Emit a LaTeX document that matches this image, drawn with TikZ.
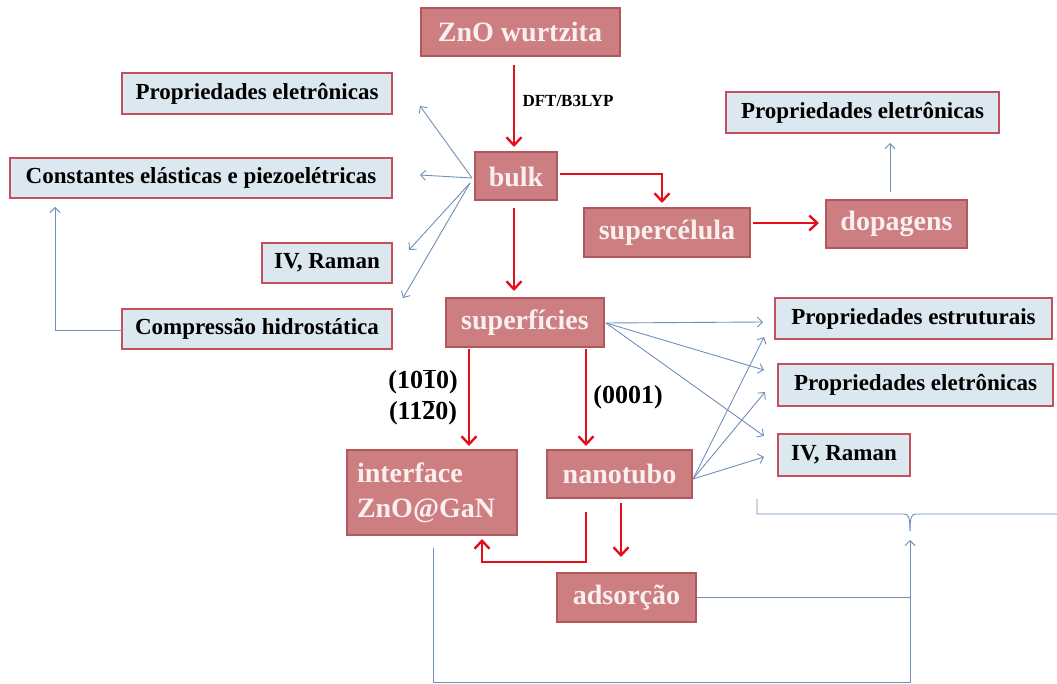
\documentclass[tikz,border=0pt]{standalone}
\usepackage{fontspec}
\setmainfont{Liberation Serif}
\usetikzlibrary{arrows.meta}
\definecolor{rosefill}{HTML}{CD7E80}
\definecolor{rosedraw}{HTML}{B0585B}
\definecolor{rosetext}{HTML}{FBF0F0}
\definecolor{bluefill}{HTML}{DCE8EF}
\definecolor{bluedraw}{HTML}{C4505C}
\definecolor{arrred}{HTML}{E3101A}
\definecolor{arrblue}{HTML}{7090B8}
\newcommand\ovl[1]{$\overline{\mbox{#1}}$}
\tikzset{
  rosebox/.style={draw=rosedraw, line width=2pt, fill=rosefill, text=rosetext,
    font=\bfseries\fontsize{28}{30}\selectfont, inner sep=0pt, align=center},
  bluebox/.style={draw=bluedraw, line width=2pt, fill=bluefill, text=black,
    font=\bfseries\fontsize{23}{25}\selectfont, inner sep=0pt},
  redarr/.style={draw=arrred, line width=2.4pt, -{Straight Barb[length=8pt,width=15pt,line width=2.4pt]}},
  redline/.style={draw=arrred, line width=2.4pt},
  bluearr/.style={draw=arrblue, line width=0.9pt, -{Straight Barb[length=5pt,width=10pt,line width=0.9pt]}},
  blueline/.style={draw=arrblue, line width=0.9pt},
  lbl/.style={font=\bfseries\fontsize{26}{30}\selectfont, inner sep=0pt, align=center},
}
\begin{document}
\begin{tikzpicture}[x=1pt,y=-1pt]
\useasboundingbox (0,0) rectangle (1057,684);
% rose boxes
\node[rosebox, minimum width=199pt, minimum height=48pt] (zno) at (520,32) {ZnO wurtzita};
\node[rosebox, minimum width=82pt, minimum height=48pt] (bulk) at (516,176.5) {bulk};
\node[rosebox, minimum width=166pt, minimum height=49pt] (superc) at (667,232.5) {supercélula};
\node[rosebox, minimum width=141pt, minimum height=48pt] (dop) at (896.5,224) {dopagens};
\node[rosebox, minimum width=158pt, minimum height=49pt] (sup) at (525,322.5) {superfícies};
\node[rosebox, minimum width=170pt, minimum height=85pt, align=left, text width=150pt] (inter) at (432,492.5) {interface\\[5pt]ZnO@GaN};
\node[rosebox, minimum width=145pt, minimum height=48pt] (nano) at (619.5,474) {nanotubo};
\node[rosebox, minimum width=139pt, minimum height=49pt] (ads) at (626.5,597.5) {adsorção};
% blue boxes
\node[bluebox, minimum width=270pt, minimum height=41pt] (pe1) at (257,93.5) {Propriedades eletrônicas};
\node[bluebox, minimum width=382pt, minimum height=40pt] (const) at (201,178) {Constantes elásticas e piezoelétricas};
\node[bluebox, minimum width=130pt, minimum height=40pt] (ivr1) at (327,263) {IV, Raman};
\node[bluebox, minimum width=270pt, minimum height=40pt] (comp) at (257,329) {Compressão hidrostática};
\node[bluebox, minimum width=273pt, minimum height=41pt] (pe2) at (862.5,112.5) {Propriedades eletrônicas};
\node[bluebox, minimum width=277pt, minimum height=41pt] (pest) at (913.5,318.5) {Propriedades estruturais};
\node[bluebox, minimum width=275pt, minimum height=42pt] (pe3) at (915.5,385) {Propriedades eletrônicas};
\node[bluebox, minimum width=132pt, minimum height=42pt] (ivr2) at (844,455) {IV, Raman};
% labels
\node[font=\bfseries\fontsize{17}{20}\selectfont, inner sep=0pt] (dft) at (568,101) {DFT/B3LYP};
\node[lbl] (l1) at (423,382) {(10\ovl{1}0)};
\node[lbl] (l2) at (423,413) {(11\ovl{2}0)};
\node[lbl] (l3) at (628,397) {(0001)};
% coordinates
\coordinate (a1) at (514,65);
\coordinate (a2) at (514,147);
\coordinate (b1) at (514,208);
\coordinate (b2) at (514,291);
\coordinate (c1) at (560,174);
\coordinate (c2) at (662,174);
\coordinate (c3) at (662,203);
\coordinate (d1) at (753,223);
\coordinate (d2) at (819,223);
\coordinate (e1) at (890,192);
\coordinate (e2) at (890,143);
\coordinate (bs) at (472,178);
\coordinate (bs2) at (470,183);
\coordinate (t1) at (420,106);
\coordinate (t2) at (420,175);
\coordinate (t3) at (409,250);
\coordinate (t4) at (403,298);
\coordinate (f1) at (122,330);
\coordinate (f2) at (55,330);
\coordinate (f3) at (55,207);
\coordinate (g1) at (469,349);
\coordinate (g2) at (469,446);
\coordinate (h1) at (586,349);
\coordinate (h2) at (586,446);
\coordinate (i1) at (621,503);
\coordinate (i2) at (621,557);
\coordinate (j1) at (586,512);
\coordinate (j2) at (586,562);
\coordinate (j3) at (482,562);
\coordinate (j4) at (482,539);
\coordinate (ss) at (606,323);
\coordinate (s1) at (763,322);
\coordinate (s2) at (764,370);
\coordinate (s3) at (764,436);
\coordinate (ns) at (693,479);
\coordinate (n1) at (764,337);
\coordinate (n2) at (765,392);
\coordinate (n3) at (764,457);
\coordinate (k1) at (433,548);
\coordinate (k2) at (433,682);
\coordinate (k3) at (910,682);
\coordinate (k4) at (910,540);
\coordinate (m1) at (697,597);
\coordinate (m2) at (910,597);
\coordinate (br1) at (757,499);
\coordinate (br2) at (1057,514);
% red arrows
\draw[redarr] (a1) -- (a2);
\draw[redarr] (b1) -- (b2);
\draw[redarr] (c1) -- (c2) -- (c3);
\draw[redarr] (d1) -- (d2);
\draw[redarr] (g1) -- (g2);
\draw[redarr] (h1) -- (h2);
\draw[redarr] (i1) -- (i2);
\draw[redarr] (j1) -- (j2) -- (j3) -- (j4);
% blue arrows
\draw[bluearr] (e1) -- (e2);
\draw[bluearr] (bs) -- (t1);
\draw[bluearr] (bs) -- (t2);
\draw[bluearr] (bs2) -- (t3);
\draw[bluearr] (bs2) -- (t4);
\draw[bluearr] (f1) -- (f2) -- (f3);
\draw[bluearr] (ss) -- (s1);
\draw[bluearr] (ss) -- (s2);
\draw[bluearr] (ss) -- (s3);
\draw[bluearr] (ns) -- (n1);
\draw[bluearr] (ns) -- (n2);
\draw[bluearr] (ns) -- (n3);
\draw[bluearr] (k1) -- (k2) -- (k3) -- (k4);
\draw[blueline] (m1) -- (m2);
% brace
\draw[blueline] (br1) -- (757,514) -- (904,514)
  .. controls (908,514) and (910,516) .. (910,531);
\draw[blueline] (910,531) .. controls (910,516) and (912,514) .. (916,514) -- (br2);
\end{tikzpicture}
\end{document}
